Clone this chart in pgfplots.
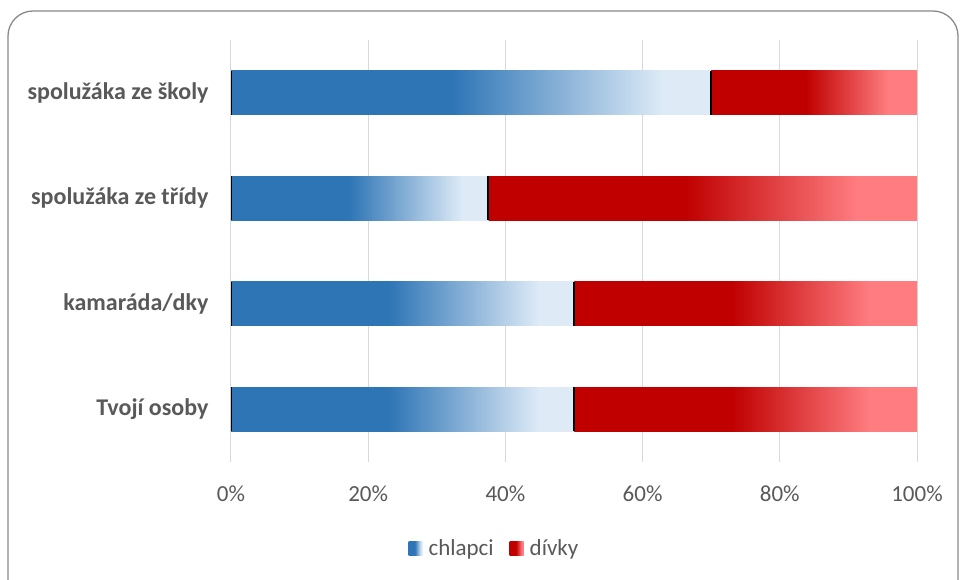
\documentclass[border=0pt]{standalone}
\usepackage{pgfplots}
\pgfplotsset{compat=1.18}
\usepackage{fontspec}
\setmainfont{Carlito}
\definecolor{cb1}{HTML}{2E75B6}
\definecolor{cb2}{HTML}{DEEBF7}
\definecolor{cr1}{HTML}{C00000}
\definecolor{cr2}{HTML}{FF7C80}
\definecolor{txt}{HTML}{595959}
\definecolor{grd}{HTML}{D9D9D9}
\definecolor{frm}{HTML}{888888}
\pgfdeclarehorizontalshading{blueshade}{100bp}{color(0bp)=(cb1); color(25bp)=(cb1); color(48bp)=(cb1); color(70bp)=(cb2); color(100bp)=(cb2)}
\pgfdeclarehorizontalshading{redshade}{100bp}{color(0bp)=(cr1); color(25bp)=(cr1); color(48bp)=(cr1); color(68bp)=(cr2); color(100bp)=(cr2)}
\pgfplotsset{
  base/.style={
    at={(231pt,118pt)}, anchor=south west,
    scale only axis, width=686pt, height=422pt,
    bar width=44pt,
    xmin=0, xmax=100, ymin=-0.5, ymax=3.5,
  },
  boys/.style={shade, shading=blueshade, draw=none},
  girls/.style={shade, shading=redshade, draw=none},
}
\begin{document}
\begin{tikzpicture}
\useasboundingbox (0pt,0pt) rectangle (962pt,580pt);
\draw[frm, line width=1.3pt, rounded corners=25pt] (8pt,-30pt) rectangle (958pt,569pt);
% main axis: grid, labels, legend, category "Tvojí osoby"
\begin{axis}[
  base, xbar stacked,
  xtick={0,20,40,60,80,100},
  xticklabel={\pgfmathprintnumber{\tick}\%},
  /pgf/number format/assume math mode=true,
  ytick={0,1,2,3},
  yticklabels={Tvojí osoby, kamaráda/dky, spolužáka ze třídy, spolužáka ze školy},
  yticklabel style={font=\fontsize{24}{27}\selectfont\bfseries, text=txt, xshift=-19pt},
  xticklabel style={font=\fontsize{23}{26}\selectfont, text=txt, yshift=-20pt},
  axis line style={draw=none},
  major tick length=0pt,
  xmajorgrids, grid style={grd, line width=1pt},
  legend style={at={(0.384,-0.204)}, anchor=center, draw=none, fill=none,
    legend columns=2, font=\fontsize{23}{26}\selectfont, text=txt,
    /tikz/every odd column/.append style={column sep=4pt},
    /tikz/every even column/.append style={column sep=14pt}},
  legend image code/.code={\path[#1] (0pt,-7pt) rectangle (14pt,7pt);},
]
\addplot[boys] coordinates {(50,0)};
\addplot[girls] coordinates {(50,0)};
\legend{chlapci, dívky}
\end{axis}
\begin{axis}[base, xbar stacked, hide axis]
\addplot[boys] coordinates {(50,1)};
\addplot[girls] coordinates {(50,1)};
\end{axis}
\begin{axis}[base, xbar stacked, hide axis]
\addplot[boys] coordinates {(37.5,2)};
\addplot[girls] coordinates {(62.5,2)};
\end{axis}
\begin{axis}[base, xbar stacked, hide axis]
\addplot[boys] coordinates {(70,3)};
\addplot[girls] coordinates {(30,3)};
\end{axis}
% thin dark edges at the start of each bar and at the boundary between the two parts
\begin{axis}[base, hide axis]
\addplot[black, line width=1.6pt] coordinates {(50,-0.207) (50,0.207)};
\addplot[black, line width=1.6pt] coordinates {(50,0.793) (50,1.207)};
\addplot[black, line width=1.6pt] coordinates {(37.5,1.793) (37.5,2.207)};
\addplot[black, line width=1.6pt] coordinates {(70,2.793) (70,3.207)};
\addplot[black, line width=0.8pt] coordinates {(0.12,-0.207) (0.12,0.207)};
\addplot[black, line width=0.8pt] coordinates {(0.12,0.793) (0.12,1.207)};
\addplot[black, line width=0.8pt] coordinates {(0.12,1.793) (0.12,2.207)};
\addplot[black, line width=0.8pt] coordinates {(0.12,2.793) (0.12,3.207)};
\end{axis}
\end{tikzpicture}
\end{document}
